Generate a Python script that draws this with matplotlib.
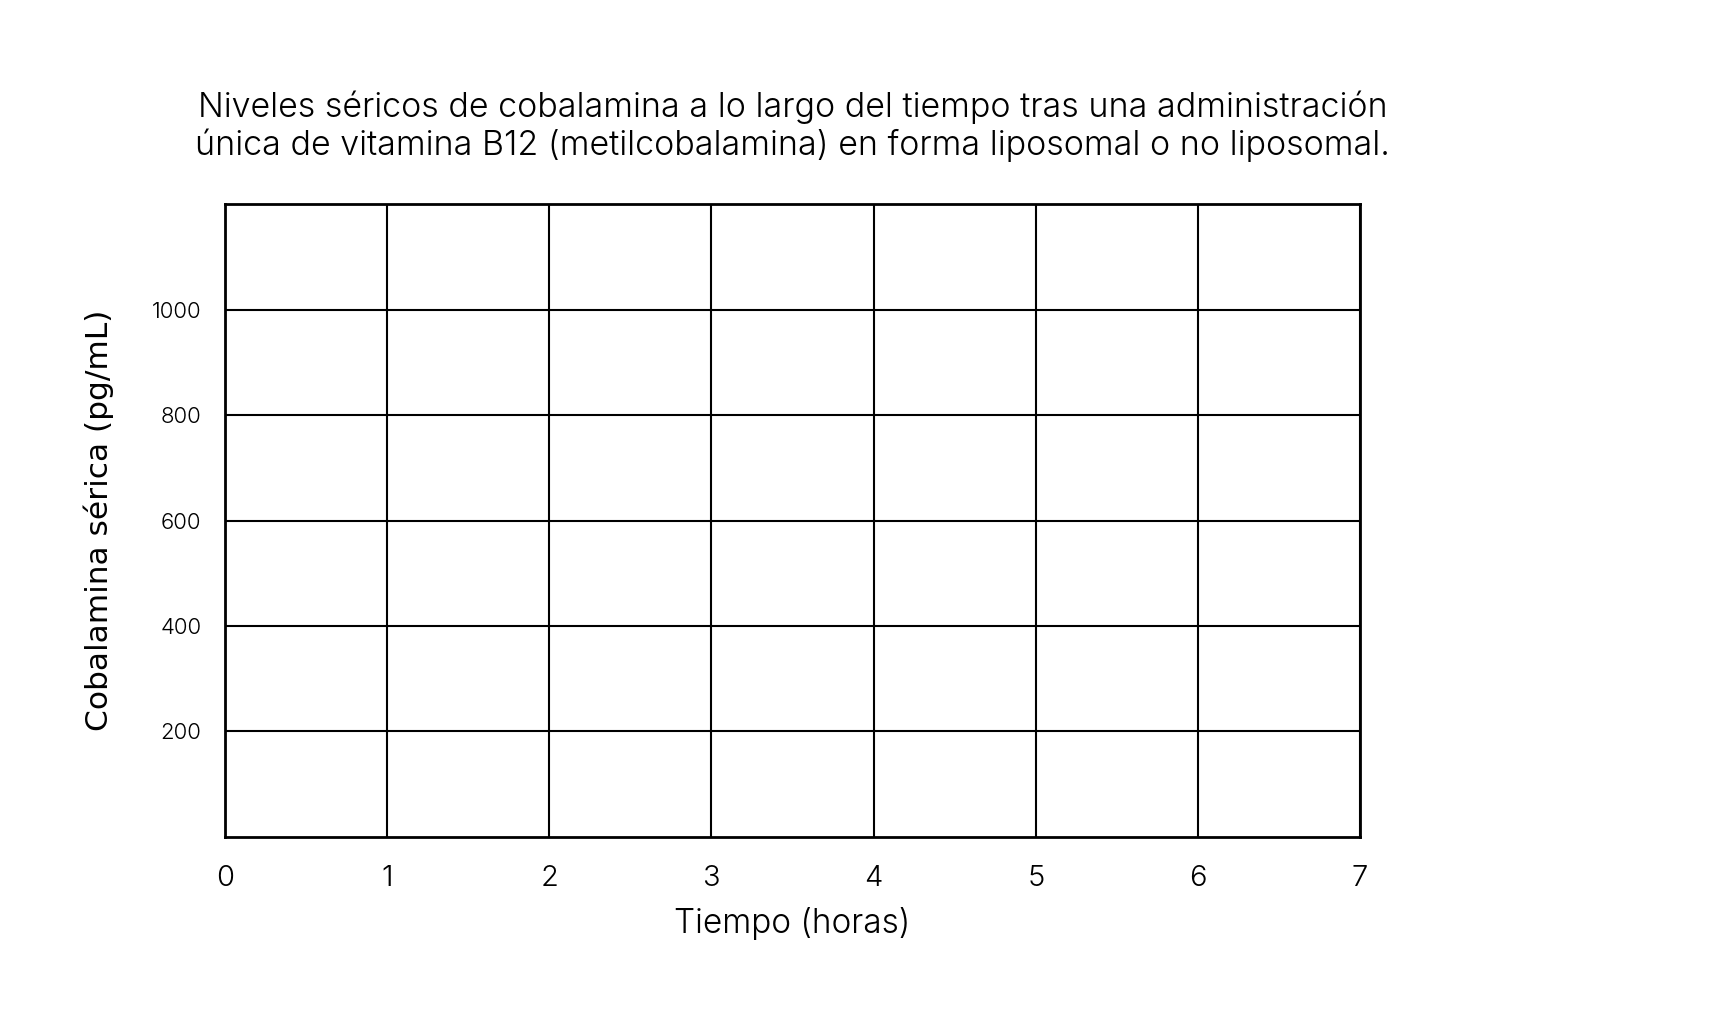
import matplotlib
matplotlib.use("Agg")
import matplotlib.pyplot as plt

# Data / labels
title_text = ("Niveles séricos de cobalamina a lo largo del tiempo tras una administración\n"
              "única de vitamina B12 (metilcobalamina) en forma liposomal o no liposomal.")
x_label = "Tiempo (horas)"
y_label = "Cobalamina sérica (pg/mL)"
x_ticks = [0, 1, 2, 3, 4, 5, 6, 7]
y_ticks = [200, 400, 600, 800, 1000]
x_range = [0, 7]
y_range = [0, 1200]

main_font = ["Inter", "DejaVu Sans"]
w = 300

fig = plt.figure(figsize=(17.19, 10.29), dpi=100)
ax = fig.add_axes([0.1309, 0.1866, 0.6603, 0.6151])

ax.set_xlim(*x_range)
ax.set_ylim(*y_range)
ax.set_xticks(x_ticks)
ax.set_yticks(y_ticks)
ax.set_xticklabels([str(v) for v in x_ticks], fontfamily=main_font, fontsize=21, fontweight=w)
ax.set_yticklabels([str(v) for v in y_ticks], fontfamily=main_font, fontsize=16, fontweight=w)
ax.tick_params(axis="x", length=0, pad=20)
ax.tick_params(axis="y", length=0, pad=17)

ax.grid(True, color="black", linewidth=1.5)
ax.set_axisbelow(True)
for s in ax.spines.values():
    s.set_linewidth(2)
    s.set_color("black")

ax.set_xlabel(x_label, fontfamily=main_font, fontsize=24, labelpad=11, fontweight=w)
ax.set_ylabel(y_label, fontfamily=["DejaVu Sans"], fontsize=22.5, labelpad=27)
ax.set_title(title_text, fontfamily=main_font, fontsize=24.5, pad=35, linespacing=1.2, fontweight=w)

fig.savefig("out.png", dpi=100, facecolor="white")
